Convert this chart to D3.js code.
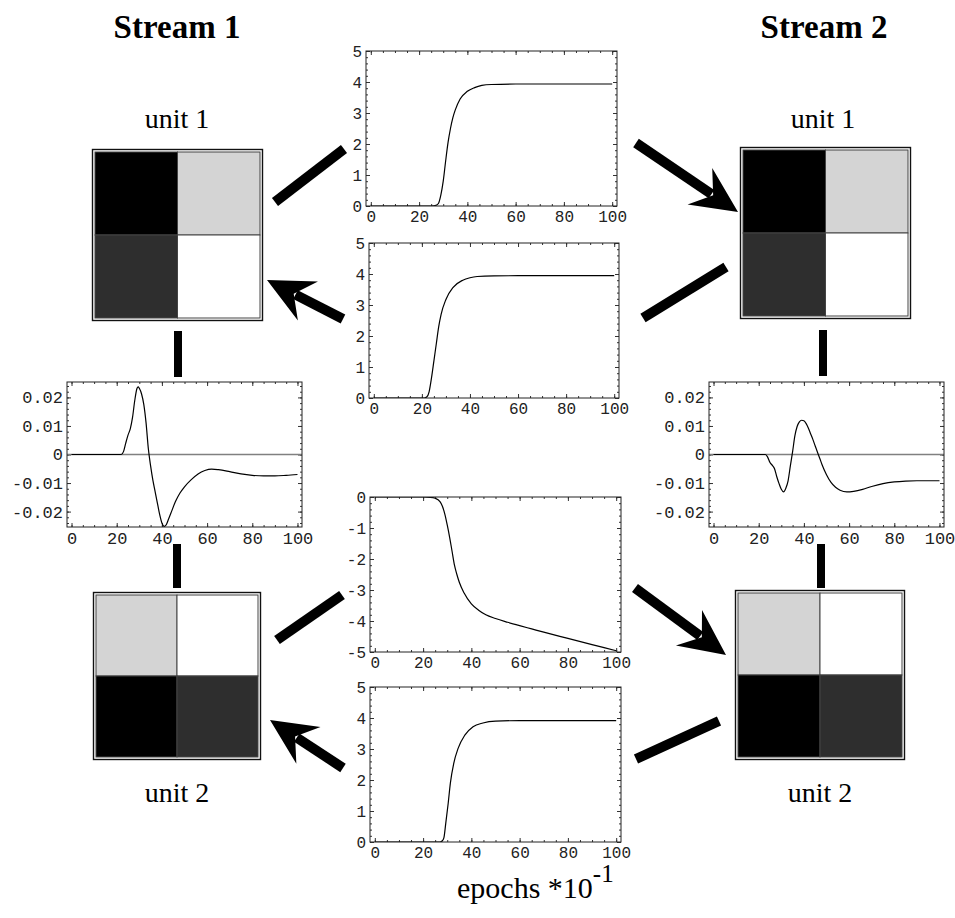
<!DOCTYPE html>
<html>
<head>
<meta charset="utf-8">
<script src="https://cdn.jsdelivr.net/npm/d3@7"></script>
<style>
  body { margin: 0; background: #fff; }
  svg { display: block; }
</style>
</head>
<body>
<div class="diagram"></div>
<script>
// x axis of every small plot: epochs * 10^-1
const epochTicks = [0, 20, 40, 60, 80, 100];
const epochMinor = d3.range(0, 101, 5);

// middle plots: links between the two streams  [epoch, value]
const linkTop = [[0,0],[25,0],[27,0.02],[28,0.08],[29,0.35],[30,0.8],[31,1.45],[32,2.05],[33,2.5],[34,2.85],
  [35,3.1],[37,3.45],[40,3.7],[43,3.82],[46,3.89],[50,3.92],[60,3.935],[80,3.935],[100,3.935]];
const linkSecond = [[0,0],[21,0],[22,0.03],[23,0.2],[24,0.65],[25,1.2],[26,1.75],[27,2.3],[28,2.7],[30,3.18],
  [33,3.57],[37,3.8],[40,3.88],[43,3.92],[50,3.94],[60,3.945],[80,3.945],[100,3.945]];
const linkThird = [[0,0],[20,0],[23,-0.01],[25,-0.04],[27,-0.15],[28,-0.3],[29,-0.55],[30,-0.9],[31,-1.3],
  [32,-1.75],[33,-2.2],[34,-2.5],[35,-2.75],[37,-3.1],[40,-3.45],[43,-3.65],[46,-3.8],[50,-3.92],
  [55,-4.04],[60,-4.15],[65,-4.255],[70,-4.36],[80,-4.56],[90,-4.76],[100,-4.96]];
const linkBottom = [[0,0],[27,0],[28,0.04],[28.6,0.13],[29.4,0.61],[30.4,1.25],[31.3,1.9],[32.7,2.54],
  [34.5,3.02],[37.3,3.45],[40.7,3.72],[44.8,3.84],[50,3.9],[60,3.915],[80,3.915],[100,3.915]];
const linkTicks = [0, 1, 2, 3, 4, 5];
const linkTicksNeg = [0, -1, -2, -3, -4, -5];

// side plots: within-stream link between unit 1 and unit 2
const stream1Side = [[0,0],[22,0],[23,0.001],[24,0.004],[25,0.0068],[26,0.009],[27,0.013],[28,0.019],
  [29,0.0232],[29.5,0.0237],[30,0.0232],[31,0.0212],[32,0.0175],[33,0.011],[34,0.002],[35,-0.004],
  [36,-0.009],[37,-0.013],[38,-0.017],[39,-0.021],[40,-0.024],[41,-0.0252],[42,-0.0245],[43,-0.0225],
  [44,-0.0205],[46,-0.0165],[48,-0.0135],[50,-0.0113],[53,-0.0088],[56,-0.0068],[59,-0.0056],[62,-0.0051],
  [65,-0.0053],[70,-0.006],[75,-0.0068],[80,-0.0073],[85,-0.0075],[90,-0.0075],[95,-0.0073],[100,-0.007]];
const stream2Side = [[0,0],[23,0],[24,-0.001],[25,-0.0028],[26,-0.0038],[27,-0.005],[28,-0.0078],[29,-0.0102],
  [30,-0.0122],[31,-0.0131],[32,-0.0118],[33,-0.0092],[34,-0.004],[35,0.001],[36,0.0065],[37,0.0098],
  [38,0.0114],[39,0.012],[40,0.0118],[41,0.0108],[42,0.0092],[43,0.0072],[44,0.0052],[45,0.003],
  [46,0.0008],[47,-0.0013],[48,-0.0035],[50,-0.0071],[52,-0.0098],[54,-0.0115],[56,-0.0125],[59,-0.0131],
  [62,-0.0129],[66,-0.0122],[70,-0.0112],[75,-0.0102],[80,-0.0096],[85,-0.0093],[90,-0.0092],[100,-0.0092]];
const sideTicks = [-0.02, -0.01, 0, 0.01, 0.02];

// unit weight grids (gray level, 0 = black, 1 = white), cells TL TR BL BR
const cellRows = [0, 0, 1, 1];
const cellCols = [0, 1, 0, 1];
const unit1Gray = [0, 0.83, 0.18, 1];
const unit2Gray = [0.83, 1, 0, 0.18];

var width = 955
var height = 918

var svg = d3
    .select('.diagram')
    .append('svg')
    .attr('width', width)
    .attr('height', height)
    .style('background-color', '#fff')

const shade = d3.scaleLinear().domain([0, 1]).range(['#000', '#fff'])
const plain = (d) => String(d)
const small = (d) => (d === 0 ? '0' : d.toFixed(2))

let clipId = 0

function plotPanel(f, yDomain, yMajor, yMinor, fmt, pts, fontSize, zeroLine) {
    const x = d3.scaleLinear().domain([-2, 102]).range([f.x0, f.x1])
    const y = d3.scaleLinear().domain(yDomain).range([f.y1, f.y0])
    const g = svg.append('g')
    const font = (sel) => sel.selectAll('text')
        .style('font-family', '"Liberation Mono", "Courier New", monospace')
        .style('font-size', fontSize + 'px')
        .attr('fill', '#222')

    // bottom, top, left, right; labels only bottom and left
    const axes = [
        [d3.axisBottom(x), `translate(0, ${f.y1})`, epochTicks, epochMinor, plain],
        [d3.axisTop(x), `translate(0, ${f.y0})`, epochTicks, epochMinor, null],
        [d3.axisLeft(y), `translate(${f.x0}, 0)`, yMajor, yMinor, fmt],
        [d3.axisRight(y), `translate(${f.x1}, 0)`, yMajor, yMinor, null]
    ]
    axes.forEach(([ax, tr, major, minor, labelFmt], i) => {
        g.append('g').attr('transform', tr)
            .call(ax.tickValues(minor).tickSize(-2).tickFormat(''))
            .call((s) => s.select('.domain').remove())
            .selectAll('line').attr('stroke', '#333')
        const a = g.append('g').attr('transform', tr)
            .call(ax.tickValues(major).tickSize(-4).tickPadding(i < 2 ? 5 : 4).tickFormat(labelFmt || ''))
            .call((s) => s.select('.domain').remove())
        a.selectAll('line').attr('stroke', '#333')
        font(a)
    })

    if (zeroLine) {
        g.append('line')
            .attr('x1', f.x0).attr('x2', f.x1)
            .attr('y1', y(0)).attr('y2', y(0))
            .attr('stroke', '#808080').attr('stroke-width', 1.4)
    }

    const id = 'clip' + clipId++
    g.append('clipPath').attr('id', id).append('rect')
        .attr('x', f.x0).attr('y', f.y0).attr('width', f.x1 - f.x0).attr('height', f.y1 - f.y0)

    const line = d3.line().x((d) => x(d[0])).y((d) => y(d[1])).curve(d3.curveMonotoneX)
    g.append('path')
        .datum(pts)
        .attr('clip-path', `url(#${id})`)
        .attr('d', line)
        .attr('fill', 'none')
        .attr('stroke', '#000')
        .attr('stroke-width', 1.2)

    g.append('rect')
        .attr('x', f.x0).attr('y', f.y0).attr('width', f.x1 - f.x0).attr('height', f.y1 - f.y0)
        .attr('fill', 'none').attr('stroke', '#222').attr('stroke-width', 1)
}

const intMinor = d3.range(0, 26).map((d) => d / 5)
const negMinor = d3.range(0, 26).map((d) => -d / 5)
const smallMinor = d3.range(-24, 25, 2).map((d) => d / 1000)

plotPanel({ x0: 366, x1: 617, y0: 51, y1: 206 }, [0, 5], linkTicks, intMinor, plain, linkTop, 16, false)
plotPanel({ x0: 369, x1: 619, y0: 243, y1: 398 }, [0, 5], linkTicks, intMinor, plain, linkSecond, 16, false)
plotPanel({ x0: 370, x1: 621, y0: 497, y1: 652 }, [-5, 0], linkTicksNeg, negMinor, plain, linkThird, 16, false)
plotPanel({ x0: 370, x1: 621, y0: 687, y1: 842 }, [0, 5], linkTicks, intMinor, plain, linkBottom, 16, false)
plotPanel({ x0: 67, x1: 302, y0: 382, y1: 527 }, [-0.0254, 0.0254], sideTicks, smallMinor, small, stream1Side, 17, true)
plotPanel({ x0: 709, x1: 944, y0: 382, y1: 527 }, [-0.0254, 0.0254], sideTicks, smallMinor, small, stream2Side, 17, true)

// unit weight boxes
function unitBox(x0, y0, w, h, grays) {
    const g = svg.append('g')
    g.append('rect')
        .attr('x', x0 + 0.5).attr('y', y0 + 0.5).attr('width', w - 1).attr('height', h - 1)
        .attr('fill', '#fff').attr('stroke', '#111').attr('stroke-width', 1.4)
    const inset = 3
    const bx = d3.scaleBand().domain([0, 1]).range([x0 + inset, x0 + w - inset])
    const by = d3.scaleBand().domain([0, 1]).range([y0 + inset, y0 + h - inset])
    g.selectAll('rect.cell')
        .data(grays)
        .join('rect')
        .attr('class', 'cell')
        .attr('x', (d, i) => bx(cellCols[i]))
        .attr('y', (d, i) => by(cellRows[i]))
        .attr('width', bx.bandwidth())
        .attr('height', by.bandwidth())
        .attr('fill', (d) => shade(d))
        .attr('stroke', '#444')
        .attr('stroke-width', 1)
}
unitBox(92, 149, 171, 172, unit1Gray)
unitBox(740, 147, 171, 172, unit1Gray)
unitBox(93, 592, 168, 168, unit2Gray)
unitBox(735, 590, 170, 170, unit2Gray)

// thick connectors
const bars = [
    [[275, 202], [344, 149]],
    [[643, 318], [726, 267]],
    [[277, 640], [342, 595]],
    [[636, 759], [719, 721]],
    [[178, 331], [178, 377]],
    [[177, 544], [177, 588]],
    [[823, 330], [823, 376]],
    [[821, 544], [821, 588]]
]
bars.forEach(([a, b], i) => {
    svg.append('line')
        .attr('x1', a[0]).attr('y1', a[1]).attr('x2', b[0]).attr('y2', b[1])
        .attr('stroke', '#000').attr('stroke-width', i < 4 ? 10 : 8)
})

const arrows = [
    [[636, 143], [738, 212]],
    [[343, 319], [267, 280]],
    [[635, 588], [726, 655]],
    [[343, 768], [270, 720]]
]
arrows.forEach(([s, t]) => {
    const dx = t[0] - s[0], dy = t[1] - s[1]
    const len = Math.hypot(dx, dy)
    const ux = dx / len, uy = dy / len
    const nx = -uy, ny = ux
    const back = 46, half = 22, notch = 30
    svg.append('line')
        .attr('x1', s[0]).attr('y1', s[1])
        .attr('x2', t[0] - ux * (notch + 2)).attr('y2', t[1] - uy * (notch + 2))
        .attr('stroke', '#000').attr('stroke-width', 10)
    const head = [
        t,
        [t[0] - ux * back + nx * half, t[1] - uy * back + ny * half],
        [t[0] - ux * notch, t[1] - uy * notch],
        [t[0] - ux * back - nx * half, t[1] - uy * back - ny * half]
    ]
    svg.append('polygon').attr('points', head.map((p) => p.join(',')).join(' ')).attr('fill', '#000')
})

// titles and labels
const serif = '"Liberation Serif", "Times New Roman", serif'
function label(txt, x, y, size, bold) {
    svg.append('text')
        .attr('x', x).attr('y', y)
        .attr('text-anchor', 'middle')
        .style('font-family', serif)
        .style('font-size', size + 'px')
        .style('font-weight', bold ? 'bold' : 'normal')
        .attr('fill', '#000')
        .text(txt)
}
label('Stream 1', 177, 38, 33, true)
label('Stream 2', 824, 38, 33, true)
label('unit 1', 177, 128, 28, false)
label('unit 1', 823, 128, 28, false)
label('unit 2', 177, 802, 28, false)
label('unit 2', 820, 802, 28, false)

const ep = svg.append('text')
    .attr('x', 457).attr('y', 898)
    .style('font-family', serif)
    .style('font-size', '30px')
    .attr('fill', '#000')
ep.append('tspan').text('epochs *10')
ep.append('tspan').attr('dy', -16).style('font-size', '25px').text('-1')
</script>
</body>
</html>
